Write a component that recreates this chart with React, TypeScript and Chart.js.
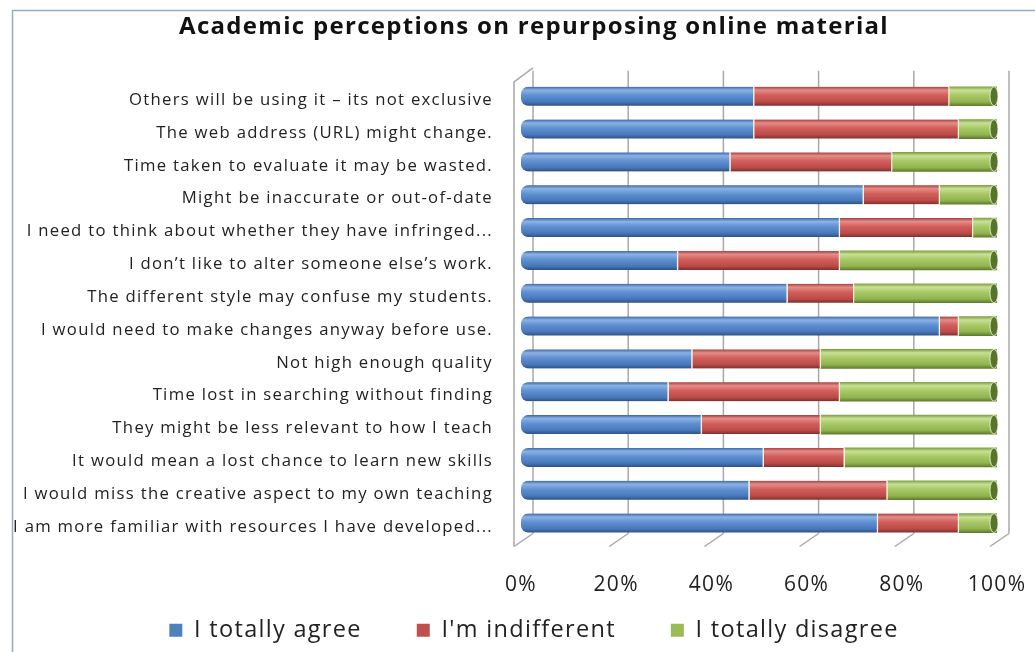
import { useEffect, useRef } from "react";
import { Chart, registerables } from "chart.js";

Chart.register(...registerables);

const TITLE = "Academic perceptions on repurposing online material";

const categories = [
  "Others will be using it – its not exclusive",
  "The web address (URL) might change.",
  "Time taken to evaluate it may be wasted.",
  "Might be inaccurate or out-of-date",
  "I need to think about whether they have infringed...",
  "I don’t like to alter someone else’s work.",
  "The different style may confuse my students.",
  "I would need to make changes anyway before use.",
  "Not high enough quality",
  "Time lost in searching without finding",
  "They might be less relevant to how I teach",
  "It would mean a lost chance to learn new skills",
  "I would miss the creative aspect to my own teaching",
  "I am more familiar with resources I have developed...",
];

const agree = [49, 49, 44, 72, 67, 33, 56, 88, 36, 31, 38, 51, 48, 75];
const indifferent = [41, 43, 34, 16, 28, 34, 14, 4, 27, 36, 25, 17, 29, 17];
const disagree = [10, 8, 22, 12, 5, 33, 30, 8, 37, 33, 37, 32, 23, 8];

const seriesNames = ["I totally agree", "I'm indifferent", "I totally disagree"];
const xTickValues = [0, 20, 40, 60, 80, 100];

const BAR_H = 19;
const LETTER_SPACING = "1.3px";

const palettes = [
  { base: "#4F81BD", stops: ["#3b68a6", "#8cb2e4", "#5f90d2", "#4878bb", "#2d5186"] },
  { base: "#C0504D", stops: ["#a63f3c", "#e38d8a", "#d25e5a", "#bb4b48", "#7e2f2d"] },
  { base: "#9BBB59", stops: ["#80a143", "#c8e095", "#a8c966", "#91b350", "#5f7d2c"] },
];

function cylinderFill(p: { base: string; stops: string[] }) {
  return (c: any) => {
    const chart = c.chart;
    const y = chart.scales && chart.scales.y;
    if (c.type !== "data" || !y) return p.base;
    const cy = y.getPixelForValue(c.dataIndex);
    if (!Number.isFinite(cy)) return p.base;
    const g = chart.ctx.createLinearGradient(0, cy - BAR_H / 2, 0, cy + BAR_H / 2);
    g.addColorStop(0, p.stops[0]);
    g.addColorStop(0.18, p.stops[1]);
    g.addColorStop(0.45, p.stops[2]);
    g.addColorStop(0.8, p.stops[3]);
    g.addColorStop(1, p.stops[4]);
    return g;
  };
}

const spacingPlugin = {
  id: "spacing",
  beforeUpdate(chart: any) {
    chart.ctx.letterSpacing = LETTER_SPACING;
  },
  beforeLayout(chart: any) {
    chart.ctx.letterSpacing = LETTER_SPACING;
  },
  beforeDraw(chart: any) {
    chart.ctx.letterSpacing = LETTER_SPACING;
  },
};

const framePlugin = {
  id: "frame3d",
  beforeDraw(chart: any) {
    const { ctx, width, height } = chart;
    ctx.save();
    ctx.fillStyle = "#ffffff";
    ctx.fillRect(0, 0, width, height);
    ctx.strokeStyle = "#98abc4";
    ctx.lineWidth = 1.5;
    ctx.strokeRect(12.5, 10.5, width + 20, height + 20);
    ctx.restore();
  },
  beforeDatasetsDraw(chart: any) {
    const { ctx, chartArea: a, scales } = chart;
    const x = scales.x;
    const DX = 12;
    ctx.save();
    ctx.strokeStyle = "#a8a8a8";
    ctx.lineWidth = 1.5;
    for (const v of xTickValues) {
      const px = x.getPixelForValue(v);
      ctx.beginPath();
      ctx.moveTo(px + DX, a.top - 9);
      ctx.lineTo(px + DX, a.bottom - 6);
      ctx.stroke();
      ctx.beginPath();
      ctx.moveTo(px - 7, a.bottom + 7);
      ctx.lineTo(px + DX, a.bottom - 6);
      ctx.stroke();
    }
    const left = x.getPixelForValue(0) - 7;
    ctx.beginPath();
    ctx.moveTo(left + DX + 7, a.top - 12);
    ctx.lineTo(left, a.top + 2);
    ctx.lineTo(left, a.bottom + 7);
    ctx.stroke();
    ctx.restore();
  },
  afterDatasetsDraw(chart: any) {
    const { ctx } = chart;
    const meta = chart.getDatasetMeta(2);
    ctx.save();
    for (const el of meta.data) {
      const props = el.getProps(["x", "y", "height"], true);
      ctx.beginPath();
      ctx.ellipse(props.x - 3, props.y, 4, props.height / 2, 0, 0, Math.PI * 2);
      ctx.fillStyle = "#56752a";
      ctx.fill();
      ctx.strokeStyle = "rgba(240,248,220,0.8)";
      ctx.lineWidth = 1;
      ctx.stroke();
    }
    ctx.restore();
  },
};

export default function App() {
  const ref = useRef<HTMLCanvasElement | null>(null);

  useEffect(() => {
    if (!ref.current) return;
    const sep = "#f4f0dc";
    const chart = new Chart(ref.current, {
      type: "bar",
      data: {
        labels: categories,
        datasets: [
          {
            label: seriesNames[0],
            data: agree,
            backgroundColor: cylinderFill(palettes[0]),
            borderColor: sep,
            borderWidth: { top: 0, bottom: 0, left: 0, right: 1.5 },
            borderSkipped: false,
            borderRadius: { topLeft: 7, bottomLeft: 7, topRight: 0, bottomRight: 0 },
            barThickness: BAR_H,
          },
          {
            label: seriesNames[1],
            data: indifferent,
            backgroundColor: cylinderFill(palettes[1]),
            borderColor: sep,
            borderWidth: { top: 0, bottom: 0, left: 0, right: 1.5 },
            borderSkipped: false,
            barThickness: BAR_H,
          },
          {
            label: seriesNames[2],
            data: disagree,
            backgroundColor: cylinderFill(palettes[2]),
            borderWidth: 0,
            barThickness: BAR_H,
          },
        ],
      },
      options: {
        indexAxis: "y",
        responsive: false,
        animation: false,
        layout: { padding: { left: 0, right: -33, top: 0, bottom: 0 } },
        scales: {
          x: {
            stacked: true,
            min: 0,
            max: 100,
            ticks: {
              stepSize: 20,
              mirror: true,
              padding: -58,
              color: "#222",
              font: { family: "Open Sans", size: 21 },
              callback: (v: any) => v + "%",
            },
            grid: { display: false, drawTicks: false },
            border: { display: false },
            afterFit: (s: any) => {
              s.height = 24;
            },
          },
          y: {
            stacked: true,
            ticks: {
              padding: 28,
              labelOffset: 4,
              color: "#222",
              font: { family: "Open Sans", size: 16.7 },
              autoSkip: false,
            },
            grid: { display: false, drawTicks: false },
            border: { display: false },
            afterFit: (s: any) => {
              s.width = 521;
            },
          },
          yRight: {
            type: "category",
            position: "right",
            display: true,
            ticks: { display: false },
            grid: { display: false, drawTicks: false },
            border: { display: false },
            afterFit: (s: any) => {
              s.width = 71;
            },
          },
        },
        plugins: {
          title: {
            display: true,
            text: TITLE,
            color: "#111",
            font: { family: "Open Sans", size: 24, weight: "bold" },
            padding: { top: 13, bottom: 38 },
          },
          legend: {
            position: "bottom",
            labels: {
              boxWidth: 13,
              boxHeight: 13,
              padding: 55,
              color: "#222",
              font: { family: "Open Sans", size: 23.5 },
              generateLabels: (c: any) =>
                Chart.defaults.plugins.legend.labels.generateLabels(c).map((l: any, i: number) => ({
                  ...l,
                  fillStyle: palettes[i].base,
                  strokeStyle: palettes[i].base,
                  lineWidth: 0,
                })),
            },
          },
          tooltip: { enabled: false },
        },
      },
      plugins: [spacingPlugin, framePlugin],
    });
    return () => chart.destroy();
  }, []);

  return (
    <div style={{ position: "fixed", left: 0, top: 0, width: 1035, height: 652, background: "#fff" }}>
      <canvas ref={ref} width={1035} height={652} style={{ display: "block" }} />
    </div>
  );
}
